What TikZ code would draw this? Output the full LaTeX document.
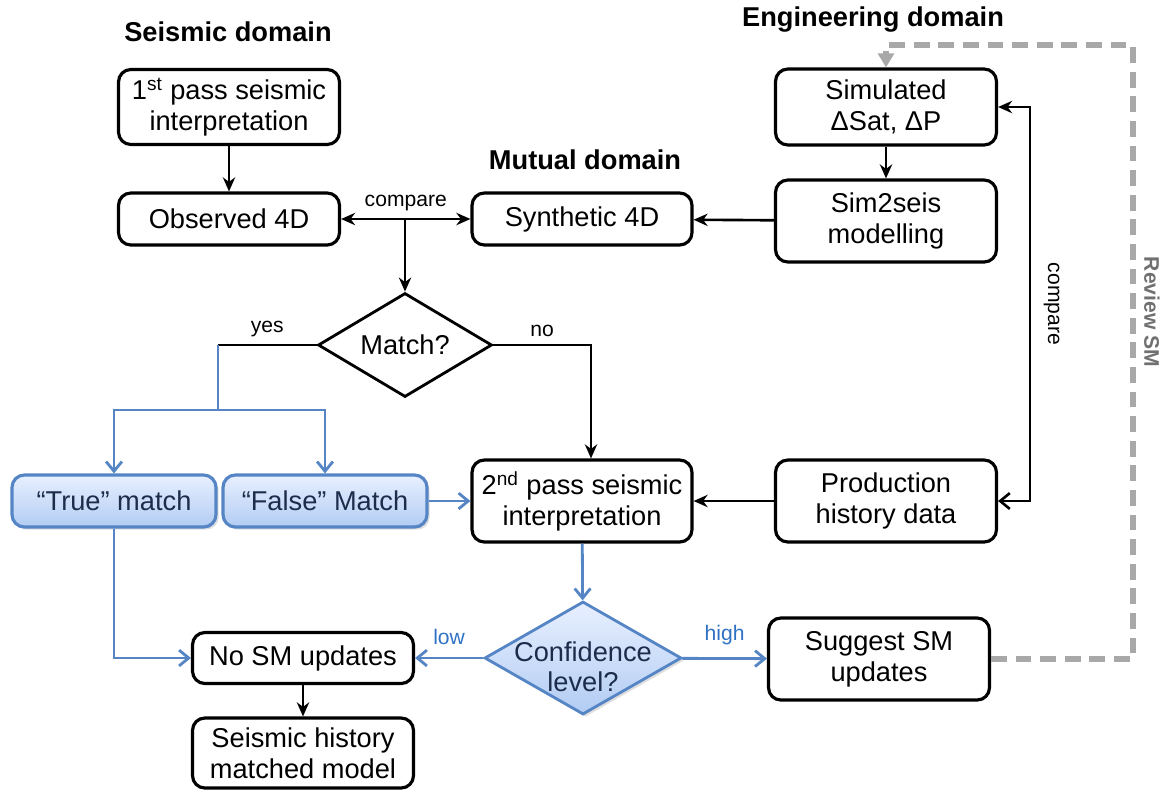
\documentclass[tikz,border=0pt]{standalone}
\usepackage{fontspec}
\setmainfont{Liberation Sans}
\usetikzlibrary{arrows.meta, positioning, calc, shapes.geometric, shadows}
\definecolor{flowblue}{HTML}{5585C5}
\definecolor{flowtop}{HTML}{E8F0FF}
\definecolor{flowbot}{HTML}{B2CCF3}
\definecolor{flownavy}{HTML}{1C2D4C}
\definecolor{labelblue}{HTML}{2F72C4}
\definecolor{reviewgrey}{HTML}{A8A8A8}
\definecolor{reviewtext}{HTML}{707070}
\newcommand{\boxfont}{\fontsize{15.5}{17.6}\selectfont}
\newcommand{\tagfont}{\fontsize{12}{14}\selectfont}
\tikzset{
  stepbox/.style={draw, line width=1.8pt, rounded corners=7pt, fill=white,
    align=center, inner sep=2pt, minimum width=4.42cm, minimum height=1.04cm,
    font=\boxfont},
  tallbox/.style={stepbox, minimum height=1.64cm},
  bluebox/.style={stepbox, draw=flowblue, top color=flowtop, bottom color=flowbot,
    text=flownavy, minimum width=4.08cm,
    drop shadow={shadow xshift=1.5pt, shadow yshift=-1.5pt, opacity=0.25}},
  decision/.style={diamond, draw, line width=1.6pt, aspect=1.67, inner sep=0pt,
    minimum width=3.48cm, minimum height=2.08cm, fill=white, font=\boxfont},
  bluedecision/.style={decision, draw=flowblue, top color=flowtop,
    bottom color=flowbot, minimum width=3.94cm, minimum height=2.26cm,
    drop shadow={shadow xshift=1.5pt, shadow yshift=-1.5pt, opacity=0.25}},
  domaintitle/.style={font=\boxfont\bfseries},
  tag/.style={font=\tagfont, inner sep=4pt},
  bluetag/.style={tag, text=labelblue},
  revlabel/.style={font=\tagfont\bfseries, text=reviewtext, rotate=-90},
  plainline/.style={line width=1.5pt},
  arr/.style={plainline, -{Stealth[length=8pt, width=7pt]}},
  dblarr/.style={plainline, {Stealth[length=8pt, width=7pt]}-{Stealth[length=8pt, width=7pt]}},
  blueline/.style={line width=1.6pt, draw=flowblue},
  bluearr/.style={blueline, -{Straight Barb[length=5.5pt, width=9pt, line width=1.6pt]}},
  reviewpath/.style={draw=reviewgrey, line width=3pt, dash pattern=on 9pt off 5pt,
    -{Triangle[length=8pt, width=9pt]}}
}

\begin{document}
\begin{tikzpicture}[x=0.02cm, y=-0.02cm]
  \useasboundingbox (0,0) rectangle (1166,789);

  % domain titles
  \node[domaintitle] (seistitle) at (228,32) {Seismic domain};
  \node[domaintitle] (mutualtitle) at (585,160) {Mutual domain};
  \node[domaintitle] (engtitle) at (873,20) {Engineering domain};

  % boxes
  \node[stepbox, minimum height=1.5cm] (first) at (229,107)
    {1\textsuperscript{st} pass seismic\\interpretation};
  \node[stepbox] (obs) at (229,219) {Observed 4D};
  \node[stepbox, minimum width=4.4cm] (syn) at (582,219) {Synthetic 4D};
  \node[stepbox, minimum height=1.52cm] (sim) at (886,107) {Simulated\\ΔSat, ΔP};
  \node[tallbox] (s2s) at (886,221) {Sim2seis\\modelling};
  \node[decision] (match) at (405,345) {Match?};
  \node[bluebox] (true) at (114,501) {“True” match};
  \node[bluebox] (false) at (325,501) {“False” Match};
  \node[tallbox, minimum width=4.4cm] (sec) at (582,501)
    {2\textsuperscript{nd} pass seismic\\interpretation};
  \node[tallbox] (prod) at (886,501) {Production\\history data};
  \node[bluedecision, label={[align=center, font=\boxfont, text=flownavy,
    yshift=-5pt]center:{Confidence\\level?}}] (conf) at (583,658) {};
  \node[stepbox, minimum height=1.02cm] (nosm) at (303,658) {No SM updates};
  \node[stepbox, minimum height=1.4cm] (hist) at (303,753)
    {Seismic history\\matched model};
  \node[tallbox] (sugg) at (879,659) {Suggest SM\\updates};

  \coordinate (yesturn) at (218,345);
  \coordinate (yessplit) at (218,410);
  \coordinate (noturn) at (591,345);
  \coordinate (cmpright) at (1030,300);
  \coordinate (revcorner) at (1133,45);

  % connectors
  \draw[arr] (first) -- (obs);
  \draw[dblarr] (obs) -- node[tag, above]{compare} (syn);
  \draw[arr] (match.north |- obs.east) -- (match.north);
  \draw[arr] (sim) -- (s2s);
  \draw[arr] (s2s) -- (syn);
  \draw[plainline] (match.west) -- node[tag, above]{yes} (yesturn);
  \draw[blueline] (yesturn) -- (yessplit);
  \draw[bluearr] (yessplit) -| (true);
  \draw[bluearr] (yessplit) -| (false);
  \draw[arr] (match.east) -- node[tag, above]{no} (noturn) -- (noturn |- sec.north);
  \draw[bluearr] (false) -- (sec);
  \draw[arr] (prod) -- (sec);
  \draw[plainline, {Stealth[length=8pt, width=7pt]}-{Straight Barb[length=5.5pt, width=9pt, line width=1.5pt]}]
    (sim.east) -- (sim.east -| cmpright)
    -- node[tag, sloped, above=3pt]{compare} (prod.east -| cmpright) -- (prod.east);
  \draw[bluearr] (sec) -- (conf);
  \draw[bluearr] (conf) -- node[bluetag, above=3pt]{low} (nosm);
  \draw[bluearr] (conf) -- node[bluetag, above=3pt]{high} (sugg);
  \draw[bluearr] (true) |- (nosm);
  \draw[arr] (nosm) -- (hist);
  \draw[reviewpath] (sugg.east) -| (revcorner) -| (sim.north);
  \node[revlabel] (revsm) at (1152,312) {Review SM};
\end{tikzpicture}
\end{document}
